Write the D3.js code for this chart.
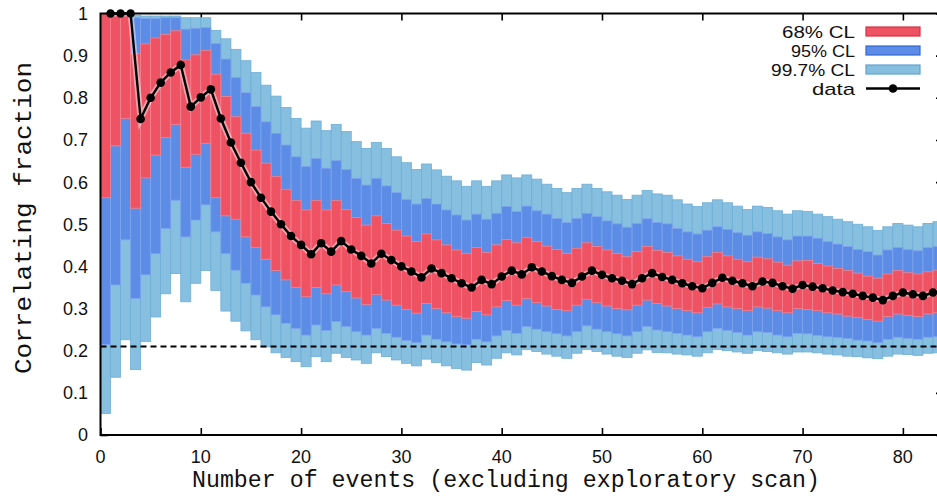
<!DOCTYPE html>
<html><head><meta charset="utf-8">
<script src="https://cdn.jsdelivr.net/npm/d3@7"></script>
<style>
html,body{margin:0;padding:0;background:#fff;}
svg{display:block;}
</style></head>
<body>
<svg id="chart" width="937" height="498"></svg>
<script>
// ---- data ----
// event index (1..84), each confidence band bar spans [i-1, i]
const dataY = [1,1,1,.75,.80,.836,.86,.878,.779,.801,.82,.751,.694,.646,.60,.563,.53,.50,.472,.451,
 .429,.455,.435,.46,.44,.425,.407,.43,.415,.40,.388,.374,.395,.384,.372,.36,.35,.368,.358,.376,
 .39,.381,.398,.388,.377,.368,.361,.376,.39,.38,.372,.366,.358,.372,.384,.375,.368,.36,.353,.348,
 .361,.373,.366,.36,.353,.364,.361,.353,.347,.356,.352,.348,.343,.339,.335,.33,.326,.32,.33,.338,
 .334,.33,.338,.34];
// 99.7% CL upper / lower
const hi3 = [1,1,1,.996,.994,.994,.994,.994,.99,.99,.99,.96,.94,.915,.888,.86,.83,.804,.777,.751,
 .728,.745,.722,.737,.72,.696,.68,.694,.68,.66,.646,.63,.643,.629,.614,.603,.59,.603,.59,.603,
 .617,.61,.617,.607,.595,.585,.575,.585,.595,.585,.577,.569,.559,.569,.58,.572,.569,.558,.548,.542,
 .551,.558,.551,.543,.535,.543,.54,.532,.524,.532,.53,.524,.518,.512,.506,.50,.494,.485,.494,.502,
 .498,.494,.502,.506];
const lo3 = [.051,.137,.226,.155,.222,.28,.335,.383,.316,.36,.39,.343,.294,.27,.247,.226,.209,.195,.184,.174,
 .162,.186,.174,.194,.184,.178,.17,.195,.186,.178,.17,.164,.18,.172,.164,.158,.154,.172,.166,.182,
 .195,.19,.203,.198,.192,.187,.182,.194,.203,.198,.192,.187,.184,.194,.202,.196,.195,.192,.19,.187,
 .195,.203,.20,.197,.194,.20,.198,.195,.192,.197,.197,.195,.192,.19,.187,.186,.183,.181,.187,.192,
 .191,.189,.194,.195];
// 95% CL upper / lower
const hi2 = [1,1,1,.99,.988,.988,.99,.99,.963,.965,.967,.929,.892,.848,.812,.779,.743,.716,.688,.66,
 .637,.656,.633,.651,.63,.609,.593,.609,.591,.575,.559,.548,.561,.548,.534,.522,.51,.524,.512,.526,
 .542,.53,.543,.532,.524,.514,.504,.514,.526,.518,.508,.501,.493,.502,.513,.504,.501,.49,.482,.477,
 .486,.494,.488,.48,.474,.482,.478,.47,.463,.472,.472,.467,.459,.453,.447,.44,.435,.427,.439,.445,
 .44,.437,.445,.447];
const lo2 = [.215,.356,.463,.324,.38,.43,.49,.557,.47,.51,.546,.482,.43,.391,.36,.332,.304,.285,.265,.253,
 .237,.261,.248,.269,.257,.245,.237,.253,.241,.232,.224,.219,.237,.227,.221,.216,.214,.227,.221,.235,
 .248,.241,.257,.251,.245,.24,.235,.245,.259,.251,.245,.24,.235,.245,.257,.249,.245,.241,.237,.233,
 .245,.253,.248,.243,.237,.245,.243,.237,.233,.241,.24,.236,.233,.231,.229,.225,.223,.219,.227,.232,
 .229,.227,.232,.233];
// 68% CL upper / lower
const hi1 = [1,1,1,.905,.928,.942,.95,.959,.89,.902,.912,.856,.803,.755,.716,.676,.645,.613,.583,.556,
 .534,.556,.534,.556,.535,.516,.498,.52,.502,.486,.472,.459,.477,.463,.451,.439,.431,.445,.433,.451,
 .464,.456,.469,.459,.448,.44,.431,.443,.456,.447,.439,.431,.423,.435,.447,.438,.433,.425,.417,.411,
 .423,.433,.425,.417,.411,.422,.418,.41,.403,.413,.414,.407,.401,.395,.39,.384,.377,.372,.382,.39,
 .385,.382,.387,.391];
const lo1 = [.563,.686,.751,.538,.61,.664,.706,.737,.635,.666,.692,.563,.52,.512,.47,.445,.417,.39,.368,.35,
 .328,.35,.335,.356,.34,.325,.31,.333,.32,.308,.298,.289,.312,.30,.29,.281,.277,.293,.285,.304,
 .319,.308,.324,.314,.306,.298,.295,.308,.322,.314,.306,.30,.297,.308,.32,.312,.306,.30,.295,.29,
 .303,.311,.304,.30,.295,.304,.301,.295,.29,.30,.298,.295,.29,.287,.282,.279,.274,.27,.281,.287,
 .284,.281,.287,.29];
const threshold = 0.21;
const xTicks = [0,10,20,30,40,50,60,70,80];
const yTicks = [0,0.1,0.2,0.3,0.4,0.5,0.6,0.7,0.8,0.9,1];
const yTickLabels = ["0","0.1","0.2","0.3","0.4","0.5","0.6","0.7","0.8","0.9","1"];
const legendLabels = ["68% CL","95% CL","99.7% CL","data"];
const xTitle = "Number of events (excluding exploratory scan)";
const yTitle = "Correlating fraction";

// ---- drawing ----
const svg = d3.select("#chart");
const x = d3.scaleLinear().domain([0,84]).range([100.5,943]);
const y = d3.scaleLinear().domain([0,1]).range([435,13.5]);
const C = {red:"#ef5363", blue:"#5c8ce6", light:"#87bfe0",
           redS:"#f4838f", blueS:"#7fa6ee", lightS:"#6eaed6"};

const bars = dataY.map((d,i)=>({i:i+1, hi3:hi3[i], lo3:lo3[i], hi2:hi2[i], lo2:lo2[i], hi1:hi1[i], lo1:lo1[i]}));

// ticks (behind bars)
const gAx = svg.append("g");
gAx.append("g").attr("transform","translate(0,435)")
  .call(d3.axisBottom(x).tickValues(xTicks).tickSize(-7).tickFormat(""));
gAx.append("g").attr("transform","translate(0,13.5)")
  .call(d3.axisTop(x).tickValues(xTicks.slice(1)).tickSize(-7).tickFormat(""));
gAx.append("g").attr("transform","translate(100.5,0)")
  .call(d3.axisLeft(y).tickValues(yTicks).tickSize(-7).tickFormat(""));
gAx.append("g").attr("transform","translate(943,0)")
  .call(d3.axisRight(y).tickValues(yTicks).tickSize(-7).tickFormat(""));
gAx.selectAll(".domain").remove();
gAx.selectAll(".tick line").attr("stroke","#000").attr("stroke-width",1.6);

function band(key1,key2,fill,stroke){
  svg.append("g").selectAll("rect").data(bars).join("rect")
    .attr("x",d=>x(d.i-1)).attr("width",d=>x(d.i)-x(d.i-1))
    .attr("y",d=>y(d[key1])).attr("height",d=>y(d[key2])-y(d[key1]))
    .attr("fill",fill).attr("stroke",stroke).attr("stroke-width",0.8);
}
band("hi3","lo3",C.light,C.lightS);
band("hi2","lo2",C.blue,C.blueS);
band("hi1","lo1",C.red,C.redS);

// threshold dashed line
svg.append("line").attr("x1",x(0)).attr("x2",x(84)).attr("y1",y(threshold)).attr("y2",y(threshold))
  .attr("stroke","#000").attr("stroke-width",2).attr("stroke-dasharray","6,4");

// data line
const pts = dataY.map((v,i)=>[i+1,v]);
const line = d3.line().x(d=>x(d[0])).y(d=>y(d[1]));
svg.append("path").attr("d",line(pts)).attr("fill","none").attr("stroke","rgba(255,255,255,0.45)").attr("stroke-width",6);
svg.append("path").attr("d",line(pts)).attr("fill","none").attr("stroke","#000").attr("stroke-width",2.4);
svg.append("g").selectAll("circle").data(pts).join("circle")
  .attr("cx",d=>x(d[0])).attr("cy",d=>y(d[1])).attr("r",4.3).attr("fill","#000");

// border
svg.append("rect").attr("x",x(0)).attr("y",y(1)).attr("width",x(84)-x(0)).attr("height",y(0)-y(1))
  .attr("fill","none").attr("stroke","#000").attr("stroke-width",2);

// tick labels
const lab = svg.append("g").attr("font-family","'Liberation Sans', Arial, sans-serif").attr("font-size",18).attr("fill","#111");
lab.selectAll(".yl").data(yTicks).join("text").attr("class","yl")
  .attr("x",88).attr("y",d=>y(d)).attr("dy","0.36em").attr("text-anchor","end")
  .text((d,i)=>yTickLabels[i]);
lab.selectAll(".xl").data(xTicks).join("text").attr("class","xl")
  .attr("x",d=>x(d)).attr("y",463).attr("text-anchor","middle").text(d=>d);

// axis titles
svg.append("text").attr("x",506).attr("y",487).attr("text-anchor","middle")
  .attr("font-family","'Liberation Mono', 'Courier New', monospace").attr("font-size",23).attr("fill","#111")
  .attr("textLength",628).attr("lengthAdjust","spacingAndGlyphs")
  .text(xTitle);
svg.append("text").attr("transform","translate(31,218) rotate(-90)").attr("text-anchor","middle")
  .attr("font-family","'Liberation Mono', 'Courier New', monospace").attr("font-size",23).attr("fill","#111")
  .attr("textLength",312).attr("lengthAdjust","spacingAndGlyphs")
  .text(yTitle);

// legend
const lg = svg.append("g");
const rowY = [31.5,50.5,69.5,88.5];
const sw = [{f:C.red,s:"#d8303f"},{f:C.blue,s:"#2f6ad8"},{f:C.light,s:"#5ea3cf"}];
lg.selectAll("text").data(legendLabels).join("text")
  .attr("x",855).attr("y",(d,i)=>rowY[i]).attr("dy","0.36em").attr("text-anchor","end")
  .attr("font-family","'Liberation Sans', Arial, sans-serif").attr("font-size",17).attr("fill","#111")
  .attr("textLength",(d,i)=>[73,64,84,43][i]).attr("lengthAdjust","spacingAndGlyphs")
  .text(d=>d);
lg.selectAll("rect").data(sw).join("rect")
  .attr("x",866).attr("width",54).attr("y",(d,i)=>rowY[i]-4.5).attr("height",9)
  .attr("fill",d=>d.f).attr("stroke",d=>d.s).attr("stroke-width",1.2);
lg.append("line").attr("x1",866).attr("x2",920).attr("y1",rowY[3]).attr("y2",rowY[3]).attr("stroke","#000").attr("stroke-width",2.4);
lg.append("circle").attr("cx",893).attr("cy",rowY[3]).attr("r",4.3).attr("fill","#000");
</script>
</body></html>
